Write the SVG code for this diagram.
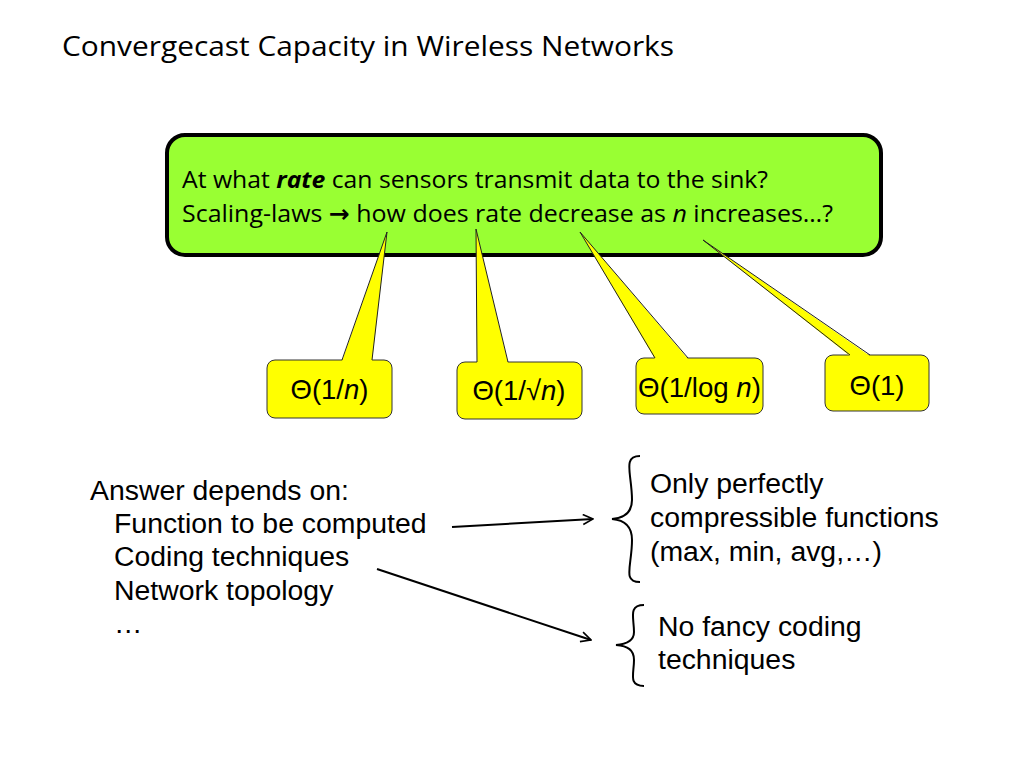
<svg xmlns="http://www.w3.org/2000/svg" width="1024" height="768" viewBox="0 0 1024 768">
<style>
.cal{font-family:"Open Sans","Noto Sans","Liberation Sans",sans-serif;fill:#000}
.ar{font-family:"Liberation Sans",Arial,sans-serif;fill:#000}
.call{fill:#ffff00;stroke:#333;stroke-width:1}
.tail{fill:#ffff00;stroke:none}
.tailedge{fill:none;stroke:#222;stroke-width:1}
.conn{stroke:#000;stroke-width:2;fill:none}
.brace{stroke:#000;stroke-width:2;fill:none}
</style>
<defs>
<marker id="open" viewBox="0 0 12 12" refX="11" refY="6" markerWidth="12" markerHeight="12" markerUnits="userSpaceOnUse" orient="auto">
<path d="M1,1 L11,6 L1,11" fill="none" stroke="#000" stroke-width="1.6"/>
</marker>
</defs>
<rect width="1024" height="768" fill="#fff"/>
<text class="cal" x="62" y="56" font-size="28" textLength="612" lengthAdjust="spacingAndGlyphs">Convergecast Capacity in Wireless Networks</text>

<g id="question">
<rect x="167" y="135" width="714" height="120" rx="18" ry="18" fill="#99ff33" stroke="#000" stroke-width="4"/>
<text class="cal" x="182" y="188" font-size="24" textLength="586" lengthAdjust="spacingAndGlyphs">At what <tspan font-weight="bold" font-style="italic">rate</tspan> can sensors transmit data to the sink?</text>
<text class="cal" x="182" y="222" font-size="24" textLength="651" lengthAdjust="spacingAndGlyphs">Scaling-laws <tspan font-family="DejaVu Sans" font-weight="bold">→</tspan> how does rate decrease as <tspan font-style="italic">n</tspan> increases…?</text>
</g>

<g id="c1">
<rect class="call" x="267" y="360" width="125" height="58" rx="8"/>
<path class="tail" d="M342,361 L387,232 L372,361 Z"/>
<path class="tailedge" d="M342,360 L387,232 L372,360"/>
<text class="ar" x="329.5" y="399" font-size="27.5" text-anchor="middle">Θ(1/<tspan font-style="italic">n</tspan>)</text>
</g>
<g id="c2">
<rect class="call" x="457" y="362" width="125" height="57" rx="8"/>
<path class="tail" d="M477,363 L476,229 L508,363 Z"/>
<path class="tailedge" d="M477,362 L476,229 L508,362"/>
<text class="ar" x="519" y="400" font-size="27.5" text-anchor="middle">Θ(1/√<tspan font-style="italic">n</tspan>)</text>
</g>
<g id="c3">
<rect class="call" x="636" y="358" width="127" height="56" rx="8"/>
<path class="tail" d="M655,359 L580,232 L688,359 Z"/>
<path class="tailedge" d="M655,358 L580,232 L688,358"/>
<text class="ar" x="699.5" y="397" font-size="27.5" text-anchor="middle" textLength="123" lengthAdjust="spacingAndGlyphs">Θ(1/log <tspan font-style="italic">n</tspan>)</text>
</g>
<g id="c4">
<rect class="call" x="825" y="355" width="104" height="56" rx="8"/>
<path class="tail" d="M850,356 L703,240 L870,356 Z"/>
<path class="tailedge" d="M850,355 L703,240 L870,355"/>
<text class="ar" x="877" y="395" font-size="27.5" text-anchor="middle">Θ(1)</text>
</g>

<g id="factors">
<text class="ar" font-size="28.4">
<tspan x="90" y="500">Answer depends on:</tspan>
<tspan x="114" y="533">Function to be computed</tspan>
<tspan x="114" y="566">Coding techniques</tspan>
<tspan x="114" y="600">Network topology</tspan>
<tspan x="114" y="633">…</tspan>
</text>
</g>

<g id="answer1">
<path class="brace" d="M640,456 C622,456 632,474 632,500 C632,512 624,518 612,519 C624,520 632,526 632,540 C632,566 622,582 640,582"/>
<text class="ar" font-size="28.4">
<tspan x="650" y="493">Only perfectly</tspan>
<tspan x="650" y="527">compressible functions</tspan>
<tspan x="650" y="561">(max, min, avg,…)</tspan>
</text>
</g>
<g id="answer2">
<path class="brace" d="M644,605 C628,605 634,618 634,632 C634,640 628,644 616,645 C628,646 634,650 634,660 C634,674 628,686 644,686"/>
<text class="ar" font-size="28.4">
<tspan x="658" y="636">No fancy coding</tspan>
<tspan x="658" y="669">techniques</tspan>
</text>
</g>

<g id="connectors">
<line class="conn" x1="452" y1="527" x2="593" y2="519" marker-end="url(#open)"/>
<line class="conn" x1="377" y1="569" x2="591" y2="640" marker-end="url(#open)"/>
</g>
</svg>
